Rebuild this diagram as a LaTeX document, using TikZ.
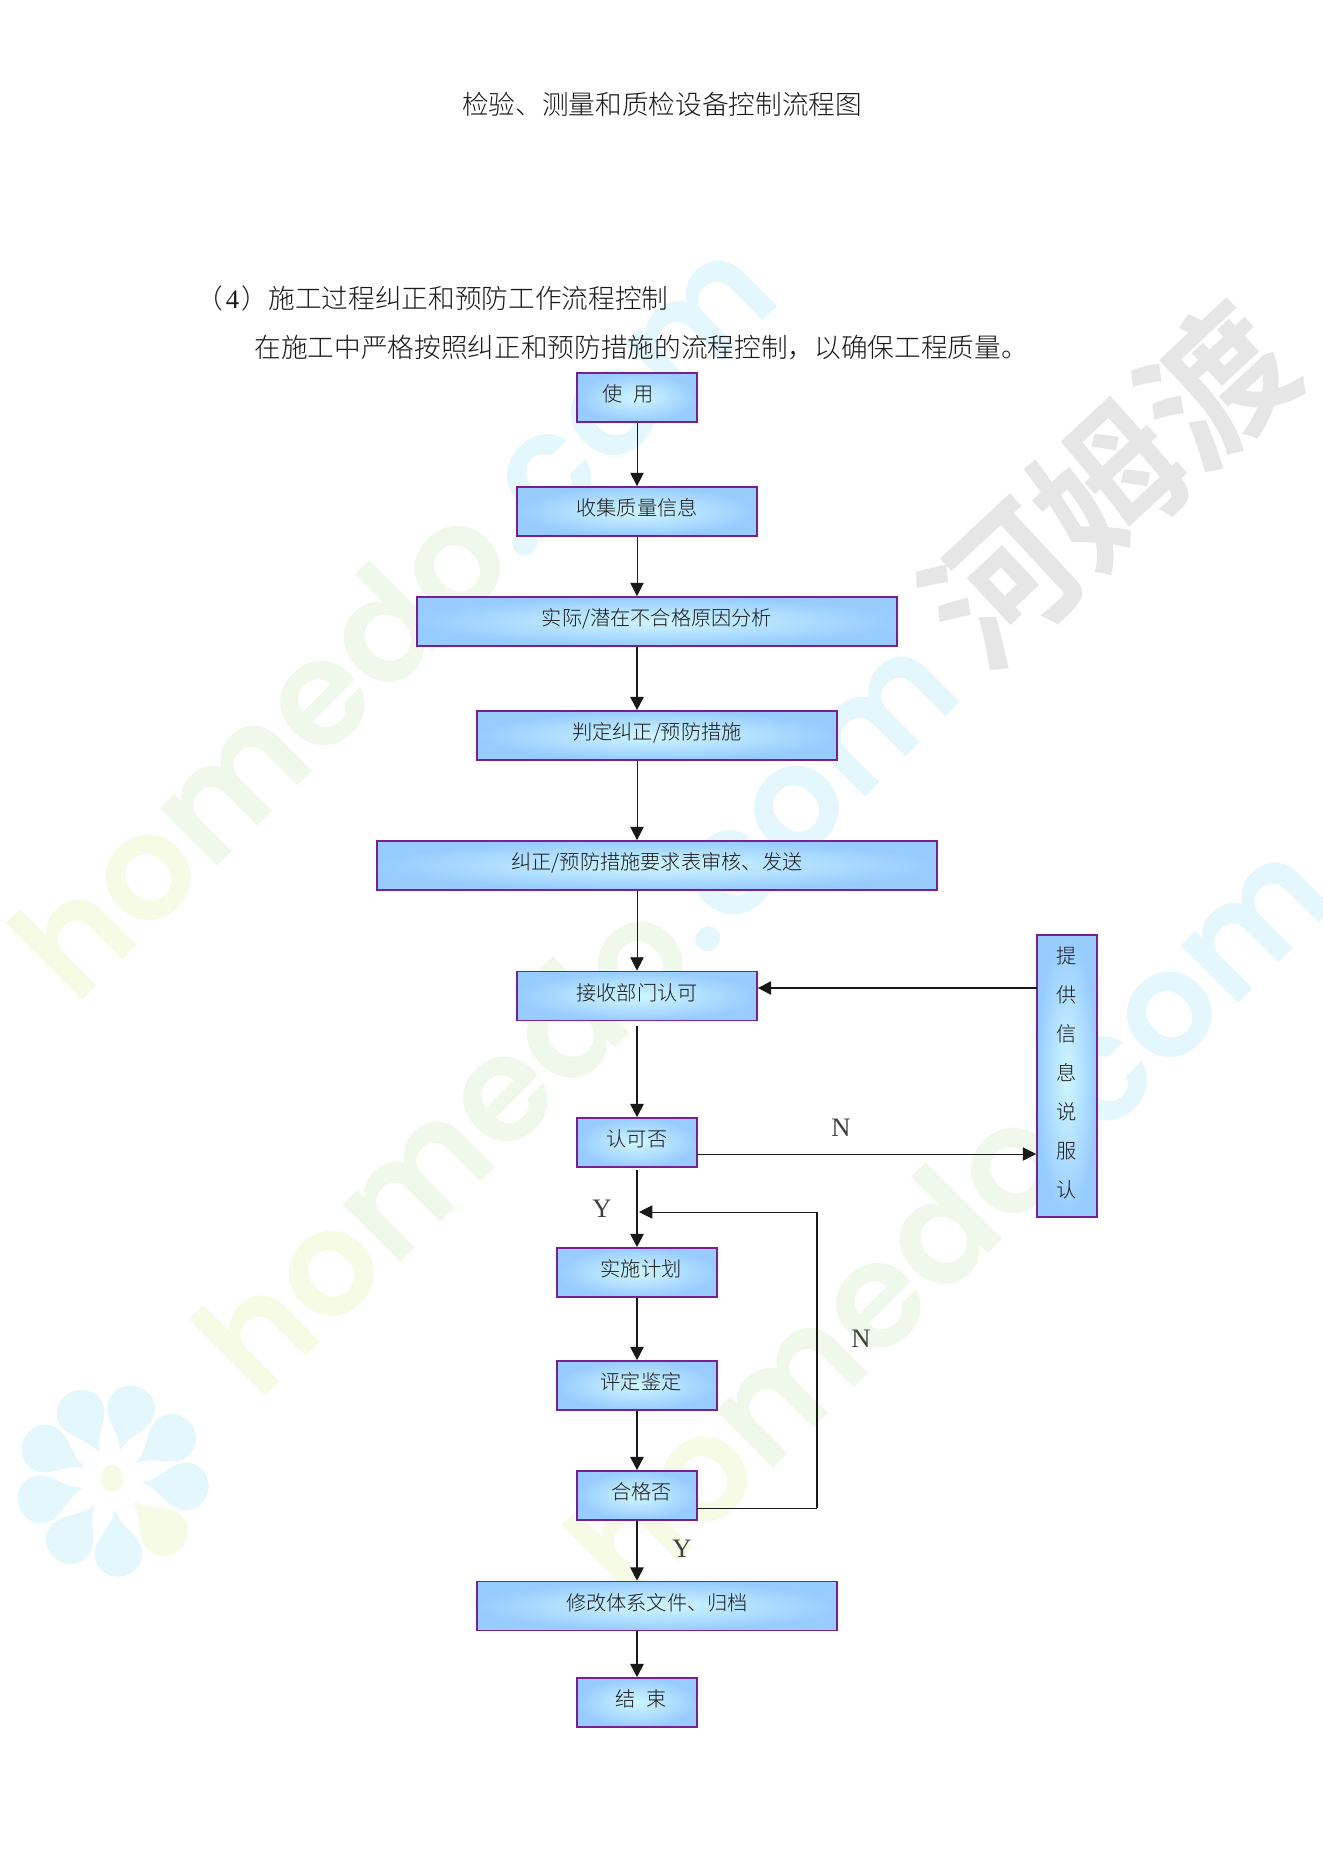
\documentclass[tikz,border=0pt]{standalone}
\usepackage{fontspec}
\setmainfont{Liberation Serif}
\newfontfamily\cjk[UprightFont=* Light]{Noto Sans CJK SC}
\newfontfamily\cjkbold[UprightFont=* Bold]{Noto Sans CJK SC}
\newfontfamily\wmfont[UprightFont=*-SemiBold]{Poppins}
\usetikzlibrary{arrows.meta}
\definecolor{boxline}{HTML}{7A1F8E}
\definecolor{boxouter}{HTML}{98CCFF}
\definecolor{boxinner}{HTML}{CFF6FF}
\definecolor{wmyellow}{HTML}{F6FBE6}
\definecolor{wmgreen}{HTML}{EFF8EA}
\definecolor{wmblue}{HTML}{E4F7FC}
\definecolor{wmgrey}{HTML}{E6E6E6}
\newcommand{\markword}{\textcolor{wmyellow}{ho}\textcolor{wmgreen}{medo}\textcolor{wmblue}{.com}}
\newcommand{\petalpath}{(0,-30) .. controls (-6,-50) and (-24,-58) .. (-24,-74) .. controls (-24,-88) and (-12,-97) .. (0,-97) .. controls (12,-97) and (24,-88) .. (24,-74) .. controls (24,-58) and (6,-50) .. (0,-30) -- cycle}
\tikzset{
	flowbox/.style={draw=boxline, line width=0.8pt, inner sep=0pt, inner color=boxinner, outer color=boxouter, minimum height=22pt, text=black!90, font=\cjk\fontsize{9.1}{17.55}\selectfont},
	boxtext/.style={text height=7pt, text depth=3pt},
	thinflow/.style={line width=0.35pt, black!90, -{Triangle[length=6pt,width=6pt]}},
	thickflow/.style={line width=0.9pt, black!90, -{Triangle[length=6pt,width=6pt]}},
	pagetext/.style={inner sep=0pt, text=black!90, font=\cjk\fontsize{12}{14}\selectfont},
	letter/.style={inner sep=0pt, text=black!75, font=\fontsize{12}{14}\selectfont},
	wmark/.style={inner sep=0pt, rotate=45, font=\wmfont\fontsize{66}{80}\selectfont}
}
\begin{document}
\begin{tikzpicture}[x=0.45pt, y=-0.45pt]
	\useasboundingbox (0,0) rectangle (1323,1871);
	% watermark
	\node [wmark] (mark1) at (392,616) {\markword};
	\node [wmark] (mark2) at (575,1012) {\markword};
	\node [wmark] (mark3) at (948,1218) {\markword};
	\node [inner sep=0pt, rotate=43, text=wmgrey, font=\cjkbold\fontsize{66}{70}\selectfont] (mark4) at (1108,484) {河姆渡};
	\foreach \a in {-15,-55,-95,-175,-215,-255,-295,-335} {
		\fill [wmblue, shift={(112,1480)}, rotate=\a] \petalpath;
	}
	\fill [wmyellow, shift={(112,1480)}, rotate=-135] \petalpath;
	\fill [wmyellow] (112,1478) ellipse (5pt and 6pt);
	% texts of the page
	\node [pagetext] (title) at (662,104) {检验、测量和质检设备控制流程图};
	\node [pagetext, anchor=west] (section) at (196,298) {（\kern1.2pt{\normalfont 4}\kern1.2pt）施工过程纠正和预防工作流程控制};
	\node [pagetext, anchor=west] (intro) at (254,347) {在施工中严格按照纠正和预防措施的流程控制，以确保工程质量。};
	% boxes
	\node [flowbox, boxtext, minimum width=54pt] (shiyong) at (637,397.5) {\hspace*{-8pt}使\hspace{5pt}用};
	\node [flowbox, boxtext, minimum width=108pt] (shouji) at (637,511.5) {收集质量信息};
	\node [flowbox, boxtext, minimum width=216pt] (shiji) at (657,621.5) {实际/潜在不合格原因分析};
	\node [flowbox, boxtext, minimum width=162pt] (panding) at (657,735.5) {判定纠正/预防措施};
	\node [flowbox, boxtext, minimum width=252pt] (jiuzheng) at (657,865.5) {纠正/预防措施要求表审核、发送};
	\node [flowbox, boxtext, minimum width=108pt] (jieshou) at (637,996) {接收部门认可};
	\node [flowbox, boxtext, minimum width=54pt] (renke) at (637,1142.5) {认可否};
	\node [flowbox, boxtext, minimum width=72pt] (shishi) at (637,1272.5) {\hspace*{3.6pt}实施计划};
	\node [flowbox, boxtext, minimum width=72pt] (pingding) at (637,1385.5) {\hspace*{3.6pt}评定鉴定};
	\node [flowbox, boxtext, minimum width=54pt] (hege) at (637,1495.5) {\hspace*{4pt}合格否};
	\node [flowbox, boxtext, minimum width=162pt] (xiugai) at (657,1606) {修改体系文件、归档};
	\node [flowbox, boxtext, minimum width=54pt] (jieshu) at (637,1702.5) {\hspace*{3.6pt}结\hspace{5pt}束};
	\node [flowbox, minimum width=27pt, minimum height=127pt, align=center] (tigong) at (1067,1076) {提\\供\\信\\息\\说\\服\\认\rule[-4pt]{0pt}{1pt}};
	% free ends
	\coordinate (spine) at (637,0);
	\coordinate (backin) at (1037,988);
	\coordinate (noout) at (697,1154);
	\coordinate (retout) at (697,1508);
	\coordinate (retcorner) at (817,1508);
	\coordinate (rettop) at (817,1212);
	\coordinate (retin) at (639,1212);
	% connectors
	\draw [thinflow] (shiyong.south -| spine) -- (shouji.north -| spine);
	\draw [thinflow] (shouji.south -| spine) -- (shiji.north -| spine);
	\draw [thickflow] (shiji.south -| spine) -- (panding.north -| spine);
	\draw [thinflow] (panding.south -| spine) -- (jiuzheng.north -| spine);
	\draw [thinflow] (jiuzheng.south -| spine) -- (jieshou.north -| spine);
	\draw [thickflow, shorten <=2pt] (jieshou.south -| spine) -- (renke.north -| spine);
	\draw [thickflow, shorten <=1pt] (renke.south -| spine) -- (shishi.north -| spine);
	\draw [thickflow] (shishi.south -| spine) -- (pingding.north -| spine);
	\draw [thickflow] (pingding.south -| spine) -- (hege.north -| spine);
	\draw [thickflow] (hege.south -| spine) -- (xiugai.north -| spine);
	\draw [thickflow] (xiugai.south -| spine) -- (jieshu.north -| spine);
	\draw [thickflow] (backin) -- (jieshou.east |- backin);
	\draw [thinflow] (noout) -- (tigong.west |- noout);
	\draw [line width=0.35pt, black!90] (retout) -- (retcorner);
	\draw [line width=0.9pt, black!90] (retcorner) -- (rettop);
	\draw [thinflow] (rettop) -- (retin);
	% labels of the connectors
	\node [letter] (labeln1) at (841,1128) {N};
	\node [letter] (labely1) at (602,1209) {Y};
	\node [letter] (labeln2) at (861,1339) {N};
	\node [letter] (labely2) at (682,1549) {Y};
\end{tikzpicture}
\end{document}
